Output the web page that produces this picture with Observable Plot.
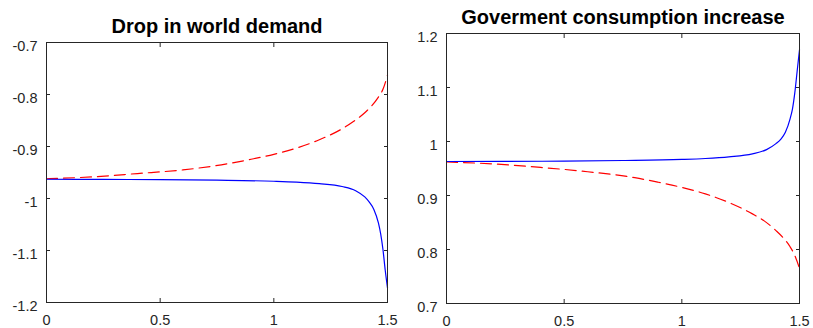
<!DOCTYPE html>
<html><head><meta charset="utf-8">
<script src="https://cdn.jsdelivr.net/npm/d3@7"></script>
<script src="https://cdn.jsdelivr.net/npm/@observablehq/plot@0.6"></script>
<style>
body{margin:0;background:#fff}
#wrap{display:flex;width:813px;height:328px;overflow:hidden;background:#fff}
#wrap svg{flex:none;display:block}
</style>
</head><body><div id="wrap"></div>
<script>
// ---- data ----
const xTicks = [0, 0.5, 1, 1.5];

const leftTitle = "Drop in world demand";
const leftYTicks = [-1.2, -1.1, -1, -0.9, -0.8, -0.7];
const leftBlueX = [0, 0.25, 0.5, 0.75, 1.0, 1.1, 1.2, 1.3, 1.36, 1.4, 1.42, 1.44, 1.46, 1.47, 1.48, 1.49, 1.5];
const leftBlueY = [-0.963, -0.9633, -0.9638, -0.9648, -0.9668, -0.9685, -0.9715, -0.977, -0.985, -0.997, -1.007, -1.021, -1.047, -1.068, -1.098, -1.138, -1.172];
const leftRedX = [0, 0.2, 0.4, 0.6, 0.8, 0.9, 1.0, 1.1, 1.2, 1.3, 1.35, 1.4, 1.43, 1.46, 1.48, 1.5];
const leftRedY = [-0.962, -0.9585, -0.952, -0.945, -0.933, -0.9245, -0.915, -0.903, -0.887, -0.866, -0.852, -0.835, -0.822, -0.805, -0.79, -0.763];

const rightTitle = "Goverment consumption increase";
const rightYTicks = [0.7, 0.8, 0.9, 1, 1.1, 1.2];
const rightBlueX = [0, 0.25, 0.5, 0.75, 1.0, 1.1, 1.2, 1.3, 1.36, 1.4, 1.42, 1.44, 1.46, 1.47, 1.48, 1.49, 1.5];
const rightBlueY = [0.963, 0.9632, 0.9637, 0.9648, 0.9668, 0.9685, 0.9715, 0.977, 0.985, 0.996, 1.004, 1.017, 1.042, 1.06, 1.09, 1.13, 1.17];
const rightRedX = [0, 0.2, 0.4, 0.6, 0.8, 0.9, 1.0, 1.1, 1.2, 1.3, 1.35, 1.4, 1.43, 1.46, 1.48, 1.5];
const rightRedY = [0.962, 0.9585, 0.952, 0.944, 0.933, 0.9245, 0.915, 0.903, 0.887, 0.866, 0.853, 0.835, 0.822, 0.805, 0.789, 0.765];

// ---- drawing ----
const axisColor = "#262626";
const fmt = d => String(d);

function panel(o) {
  const blue = o.blueX.map((x, i) => ({x, y: o.blueY[i]}));
  const red = o.redX.map((x, i) => ({x, y: o.redY[i]}));
  return Plot.plot({
    width: o.width, height: 328,
    marginLeft: o.ml, marginRight: o.mr, marginTop: o.mt, marginBottom: o.mb,
    style: {fontFamily: "'Liberation Sans', Arial, sans-serif", background: "#fff", color: axisColor, overflow: "visible"},
    x: {domain: [0, 1.5], axis: null},
    y: {domain: o.yDomain, axis: null},
    marks: [
      Plot.line(red, {x: "x", y: "y", stroke: "#ff0000", strokeWidth: 1.2, strokeDasharray: "11,6", curve: "monotone-x"}),
      Plot.line(blue, {x: "x", y: "y", stroke: "#0000ff", strokeWidth: 1.2, curve: "monotone-x"}),
      Plot.frame({stroke: axisColor, strokeWidth: 1}),
      Plot.axisX(xTicks, {anchor: "bottom", tickSize: -4, tickFormat: () => "", label: null, stroke: axisColor}),
      Plot.axisX(xTicks, {anchor: "top", tickSize: -4, tickFormat: () => "", label: null, stroke: axisColor}),
      Plot.axisY(o.yTicks, {anchor: "left", tickSize: -4, tickFormat: () => "", label: null, stroke: axisColor}),
      Plot.axisY(o.yTicks, {anchor: "right", tickSize: -4, tickFormat: () => "", label: null, stroke: axisColor}),
      Plot.axisX(xTicks, {anchor: "bottom", tickSize: 0, tickPadding: 12, tickFormat: fmt, label: null, fontSize: 14.5, fill: axisColor}),
      Plot.axisY(o.yTicks, {anchor: "left", tickSize: 0, tickPadding: 9, tickFormat: fmt, label: null, fontSize: 14.5, fill: axisColor, dy: 4}),
      Plot.text([o.title], {frameAnchor: "top", lineAnchor: "bottom", dy: -10, text: d => d, fontSize: 20, fontWeight: "bold", fill: "#000"})
    ]
  });
}

const wrap = document.getElementById("wrap");
wrap.append(panel({title: leftTitle, yDomain: [-1.2, -0.7], yTicks: leftYTicks,
  blueX: leftBlueX, blueY: leftBlueY, redX: leftRedX, redY: leftRedY,
  width: 410, ml: 46, mr: 23, mt: 42, mb: 26}));
wrap.append(panel({title: rightTitle, yDomain: [0.7, 1.2], yTicks: rightYTicks,
  blueX: rightBlueX, blueY: rightBlueY, redX: rightRedX, redY: rightRedY,
  width: 403, ml: 36, mr: 14, mt: 33, mb: 25}));
</script>
</body></html>
